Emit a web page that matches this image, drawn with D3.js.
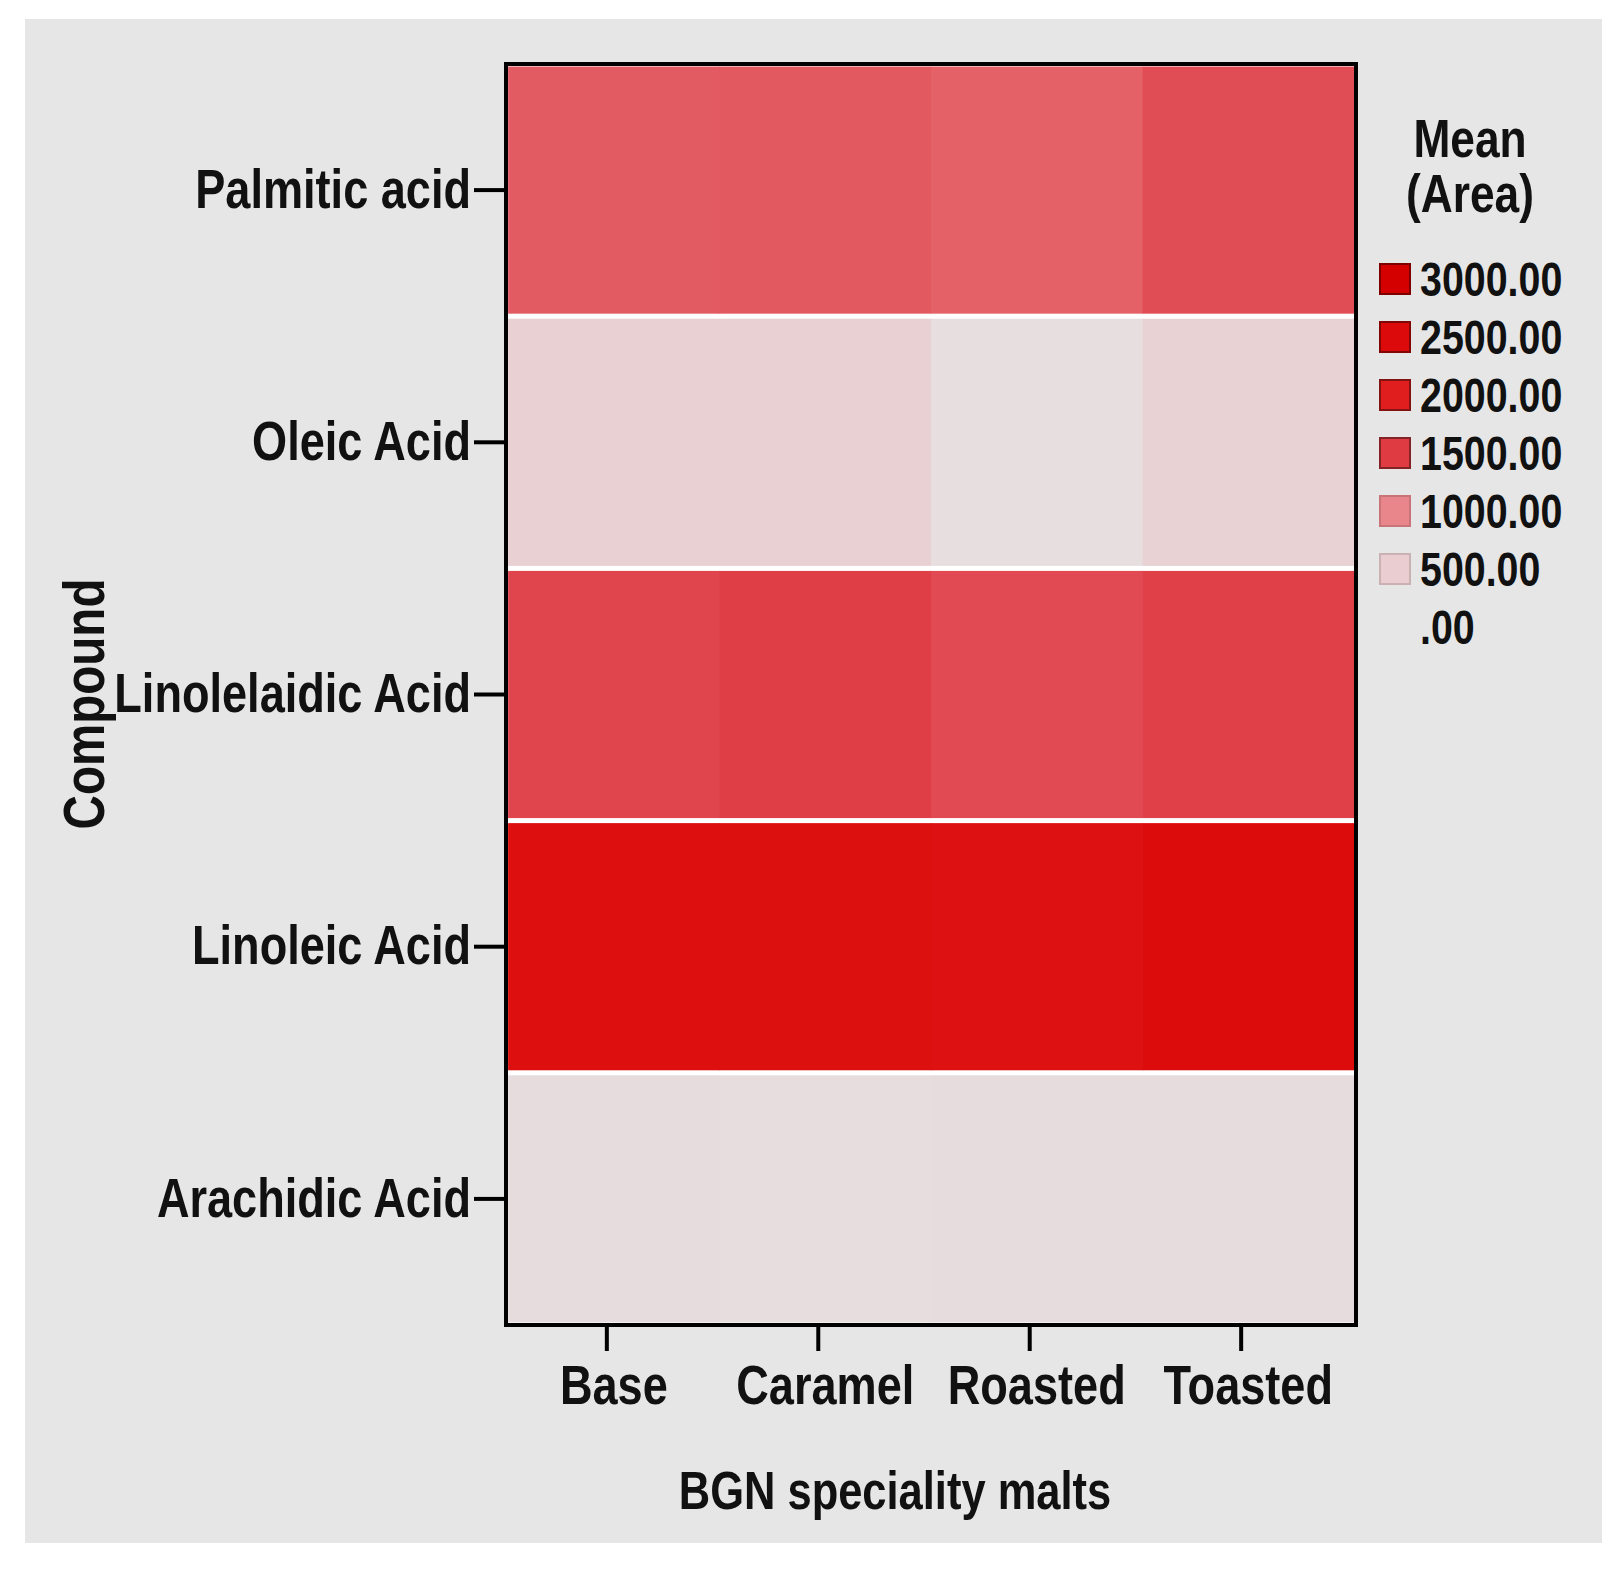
<!DOCTYPE html>
<html>
<head>
<meta charset="utf-8">
<script src="https://cdn.jsdelivr.net/npm/d3@7"></script>
<style>
  body { margin: 0; background: #fff; }
  text { font-family: "Liberation Sans", Arial, sans-serif; font-weight: bold; fill: #111; }
</style>
</head>
<body>
<div id="chart"></div>
<script>
const compounds = ["Palmitic acid", "Oleic Acid", "Linolelaidic Acid", "Linoleic Acid", "Arachidic Acid"]
const malts = ["Base", "Caramel", "Roasted", "Toasted"]
// mean area per compound, in malt order
const palmitic = [1290, 1300, 1250, 1380]
const oleic = [440, 450, 150, 400]
const linolelaidic = [1440, 1480, 1400, 1460]
const linoleic = [2380, 2350, 2320, 2450]
const arachidic = [200, 190, 200, 200]
const legendValues = [3000, 2500, 2000, 1500, 1000, 500, 0]
const legendLabels = ["3000.00", "2500.00", "2000.00", "1500.00", "1000.00", "500.00", ".00"]
const legendColors = ["#d40000", "#dc0a0a", "#e01e1e", "#df3b43", "#e8868c", "#e9cdd0", "#e6e6e6"]

const rows = [palmitic, oleic, linolelaidic, linoleic, arachidic]
const cells = []
rows.forEach((vals, r) => vals.forEach((v, c) => cells.push({compound: compounds[r], malt: malts[c], value: v})))

const W = 1623, H = 1581
const margin = {top: 64, left: 506, right: 1356, bottom: 1325}

const svg = d3.select("#chart").append("svg")
  .attr("width", W).attr("height", H)

// grey panel
svg.append("rect").attr("x", 25).attr("y", 19).attr("width", 1577).attr("height", 1524).attr("fill", "#e6e6e6")

const x = d3.scaleBand().domain(malts).range([margin.left, margin.right]).paddingOuter(0.01)
const y = d3.scaleBand().domain(compounds).range([margin.top, margin.bottom]).paddingInner(0.02).paddingOuter(0.01)
const color = d3.scaleLinear().domain(legendValues).range(legendColors)

svg.append("rect")
  .attr("x", margin.left).attr("y", margin.top)
  .attr("width", margin.right - margin.left).attr("height", margin.bottom - margin.top)
  .attr("fill", "#fff")

svg.append("g").selectAll("rect")
  .data(cells)
  .join("rect")
  .attr("x", d => x(d.malt))
  .attr("y", d => y(d.compound))
  .attr("width", x.bandwidth() + 0.5)
  .attr("height", y.bandwidth())
  .attr("fill", d => color(d.value))

// frame
svg.append("rect")
  .attr("x", margin.left).attr("y", margin.top)
  .attr("width", margin.right - margin.left).attr("height", margin.bottom - margin.top)
  .attr("fill", "none").attr("stroke", "#000").attr("stroke-width", 4)

const xAxis = svg.append("g")
  .attr("transform", "translate(0," + margin.bottom + ")")
  .call(d3.axisBottom(x).tickSize(26).tickPadding(14))
xAxis.select(".domain").remove()
xAxis.selectAll("line").attr("stroke", "#000").attr("stroke-width", 4).attr("transform", "translate(-7,0)")
xAxis.selectAll("text").style("font-size", "55px").attr("fill", "#111")

const yAxis = svg.append("g")
  .attr("transform", "translate(" + margin.left + ",0)")
  .call(d3.axisLeft(y).tickSize(32).tickPadding(3))
yAxis.select(".domain").remove()
yAxis.selectAll("line").attr("stroke", "#000").attr("stroke-width", 4)
yAxis.selectAll("text").style("font-size", "55px").attr("fill", "#111")

svg.append("text")
  .attr("x", 895).attr("y", 1509)
  .attr("text-anchor", "middle")
  .style("font-size", "53px")
  .text("BGN speciality malts")

svg.append("text")
  .attr("transform", "translate(104,704) rotate(-90)")
  .attr("text-anchor", "middle")
  .style("font-size", "58px")
  .text("Compound")

// legend
const legend = svg.append("g")
legend.append("text").attr("x", 1470).attr("y", 157).attr("text-anchor", "middle").style("font-size", "54px").text("Mean")
legend.append("text").attr("x", 1470).attr("y", 212).attr("text-anchor", "middle").style("font-size", "54px").text("(Area)")

const items = legend.selectAll("g.item")
  .data(legendValues.map((v, i) => ({value: v, label: legendLabels[i]})))
  .join("g")
  .attr("class", "item")
  .attr("transform", (d, i) => "translate(1380," + (279 + i * 58) + ")")

items.filter(d => d.value > 0).append("rect")
  .attr("x", 0).attr("y", -15).attr("width", 30).attr("height", 30)
  .attr("fill", d => color(d.value))
  .attr("stroke", d => d3.color(color(d.value)).darker(d.value >= 1500 ? 1.5 : 0.4))
  .attr("stroke-width", 2)

items.append("text")
  .attr("x", 40).attr("dy", "0.36em")
  .style("font-size", "48px")
  .text(d => d.label)

// squeeze all text to mimic a narrow face
svg.selectAll("text").each(function() {
  const len = this.getComputedTextLength()
  d3.select(this).attr("textLength", len * 0.82).attr("lengthAdjust", "spacingAndGlyphs")
})
</script>
</body>
</html>
